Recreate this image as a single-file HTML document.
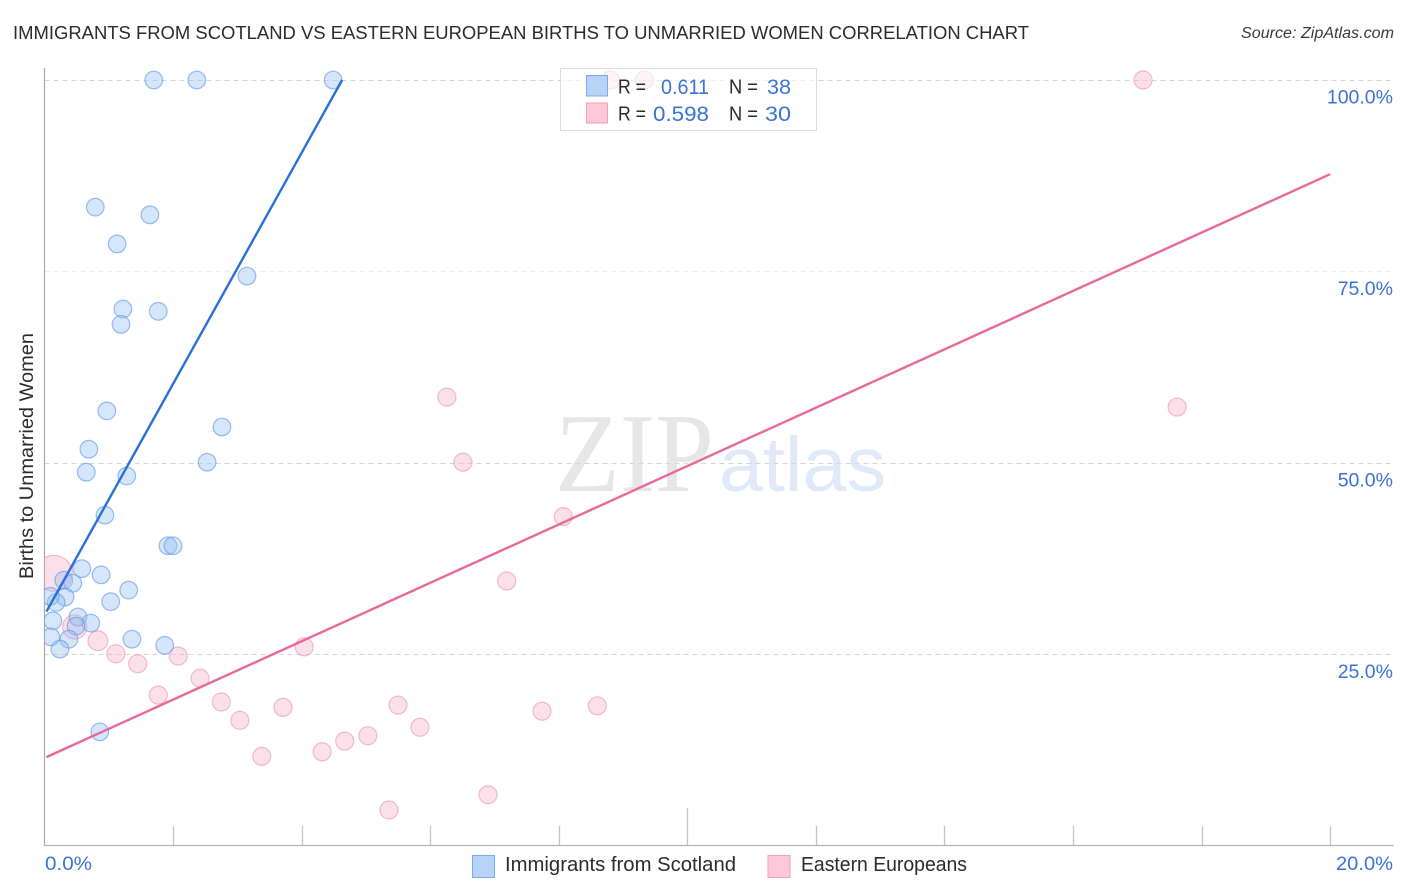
<!DOCTYPE html>
<html lang="en">
<head>
<meta charset="utf-8">
<title>Immigrants from Scotland vs Eastern European Births to Unmarried Women Correlation Chart</title>
<style>
html,body{margin:0;padding:0;background:#fff;}
body{width:1406px;height:892px;overflow:hidden;}
svg{display:block;font-family:"Liberation Sans",sans-serif;}
</style>
</head>
<body>
<svg id="chart" width="1406" height="892" viewBox="0 0 1406 892" xmlns="http://www.w3.org/2000/svg">
  <defs><clipPath id="plot-clip"><rect x="44.5" y="60" width="1350" height="786"/></clipPath></defs>
  <rect x="0" y="0" width="1406" height="892" fill="#fff"/>
  <text x="13" y="39" font-size="18.6" fill="#2b2b2b" textLength="1016" lengthAdjust="spacingAndGlyphs">IMMIGRANTS FROM SCOTLAND VS EASTERN EUROPEAN BIRTHS TO UNMARRIED WOMEN CORRELATION CHART</text>
  <text x="1394" y="38" font-size="15.5" font-style="italic" fill="#3a3a3a" text-anchor="end" textLength="153" lengthAdjust="spacingAndGlyphs">Source: ZipAtlas.com</text>
  <g>
    <text x="555" y="491" font-family="'Liberation Serif',serif" font-size="112" fill="#e6e6e6" textLength="159" lengthAdjust="spacingAndGlyphs">ZIP</text>
    <text x="719" y="491" font-size="77" fill="#dfe9f9" textLength="167" lengthAdjust="spacingAndGlyphs">atlas</text>
  </g>
  <g id="grid"></g>
  <g id="axes"></g>
  <g id="marks" clip-path="url(#plot-clip)"></g>
  <g id="lines"></g>
  <g id="labels"></g>
  <text transform="translate(33,456) rotate(-90)" font-size="19.5" fill="#2b2b2b" text-anchor="middle" textLength="246" lengthAdjust="spacingAndGlyphs">Births to Unmarried Women</text>

  <g>
    <rect x="560.5" y="68.5" width="256" height="62" fill="#fff" fill-opacity="0.62" stroke="#dcdcdc"/>
    <rect x="586.5" y="75.5" width="21" height="20.5" fill="#b7d3f8" stroke="#7fa9e6"/>
    <rect x="586.5" y="103" width="21" height="20" fill="#fcc8da" stroke="#f0a0bb"/>
    <g font-size="20" fill="#2b2b2b">
      <text x="618" y="93.5" textLength="28" lengthAdjust="spacingAndGlyphs">R =</text>
      <text x="618" y="120.5" textLength="28" lengthAdjust="spacingAndGlyphs">R =</text>
      <text x="729" y="93.5" textLength="29" lengthAdjust="spacingAndGlyphs">N =</text>
      <text x="729" y="120.5" textLength="29" lengthAdjust="spacingAndGlyphs">N =</text>
    </g>
    <g font-size="21" fill="#3b73d1">
      <text x="661" y="94" textLength="48" lengthAdjust="spacingAndGlyphs">0.611</text>
      <text x="653" y="121" textLength="56" lengthAdjust="spacingAndGlyphs">0.598</text>
      <text x="767" y="94" textLength="24" lengthAdjust="spacingAndGlyphs">38</text>
      <text x="765" y="121" textLength="26" lengthAdjust="spacingAndGlyphs">30</text>
    </g>
  </g>

  <g>
    <rect x="472.5" y="855.5" width="22" height="22" fill="#b7d3f8" stroke="#7fa9e6"/>
    <text x="505" y="871" font-size="20" fill="#2b2b2b" textLength="231" lengthAdjust="spacingAndGlyphs">Immigrants from Scotland</text>
    <rect x="768" y="855.5" width="22" height="22" fill="#fcc8da" stroke="#f0a0bb"/>
    <text x="801" y="871" font-size="20" fill="#2b2b2b" textLength="166" lengthAdjust="spacingAndGlyphs">Eastern Europeans</text>
  </g>
</svg>
<script>
const scotlandX = [1.70,2.37,4.49,0.79,1.64,1.13,3.15,1.22,1.77,1.19,0.97,2.76,0.69,2.53,0.65,1.28,0.94,1.92,2.00,0.58,0.88,0.30,0.44,1.31,0.32,1.03,0.18,0.09,0.13,0.52,0.72,0.49,0.10,0.38,1.36,1.87,0.24,0.86];
const scotlandY = [100,100,100,83.4,82.4,78.6,74.4,70.1,69.8,68.1,56.8,54.7,51.8,50.1,48.8,48.3,43.2,39.2,39.2,36.2,35.4,34.7,34.3,33.4,32.5,31.9,31.8,32.6,29.4,29.9,29.1,28.7,27.3,27.0,27.0,26.2,25.7,14.9];
const easternX = [0.15,0.47,0.83,1.11,1.45,2.08,2.42,1.77,2.75,3.04,3.71,4.04,3.38,4.32,4.67,5.03,5.50,5.84,5.36,6.90,7.74,8.60,7.19,8.07,6.51,6.26,17.62,17.09,9.33,8.81];
const easternY = [35.6,28.6,26.8,25.1,23.8,24.8,21.9,19.7,18.8,16.4,18.1,26.0,11.7,12.3,13.7,14.4,18.4,15.5,4.7,6.7,17.6,18.3,34.6,43.0,50.1,58.6,57.3,100,100,100];
const easternWeight = [4,1.8,1.2,1,1,1,1,1,1,1,1,1,1,1,1,1,1,1,1,1,1,1,1,1,1,1,1,1,1,1];
const scotlandTrendX = [0.03,4.63];
const scotlandTrendY = [30.6,100];
const easternTrendX = [0.03,20];
const easternTrendY = [11.6,87.7];
const yTicks = [25,50,75,100];
const yTickLabels = ["25.0%","50.0%","75.0%","100.0%"];
const xTicks = [2,4,6,8,10,12,14,16,18,20];
const xEndLabels = ["0.0%","20.0%"];

const NS = "http://www.w3.org/2000/svg";
const xScale = v => 44.5 + v * 64.28;
const yScale = v => 846 - v * 7.66;
function make(tag, parent, attrs) {
  const el = document.createElementNS(NS, tag);
  for (const k in attrs) el.setAttribute(k, attrs[k]);
  parent.appendChild(el);
  return el;
}
const grid = document.getElementById("grid");
const axes = document.getElementById("axes");
const marks = document.getElementById("marks");
const lines = document.getElementById("lines");
const labels = document.getElementById("labels");

yTicks.forEach((t, i) => {
  const y = Math.floor(yScale(t)) + 0.5;
  const g = make("line", grid, {x1: 44.5, x2: 1393, y1: y, y2: y, stroke: t === 75 ? "#ececec" : "#d6d6d6", "stroke-width": 1, "stroke-dasharray": "5 4"});
  
  
  const l = make("text", labels, {x: 1393, y: yScale(t) + 23.5, "font-size": 19.5, fill: "#3b73d1", "text-anchor": "end"});
  l.textContent = yTickLabels[i];
  
  
});

const yAxis = make("line", axes, {x1: 44.5, x2: 44.5, y1: 68, y2: 846, stroke: "#a8a8a8", "stroke-width": 1.2});


const xAxis = make("line", axes, {x1: 44, x2: 1394, y1: 845.5, y2: 845.5, stroke: "#b4b4b4", "stroke-width": 1.2});


xTicks.forEach(t => {
  const x = Math.round(xScale(t)) + 0.5;
  const tick = make("line", axes, {x1: x, x2: x, y1: t === 10 ? 808 : 826, y2: 845, stroke: "#c4c4c4", "stroke-width": 1.3});
  
  
});
const xStart = make("text", labels, {x: 45, y: 870, "font-size": 19.5, fill: "#3b73d1", textLength: 47, lengthAdjust: "spacingAndGlyphs"});
xStart.textContent = xEndLabels[0];


const xEnd = make("text", labels, {x: 1336, y: 870, "font-size": 19.5, fill: "#3b73d1", textLength: 57, lengthAdjust: "spacingAndGlyphs"});
xEnd.textContent = xEndLabels[1];



easternX.forEach((v, i) => {
  const c = make("circle", marks, {cx: xScale(v), cy: yScale(easternY[i]), r: 9 * Math.sqrt(easternWeight[i]), fill: "#f9b4cb", "fill-opacity": 0.42, stroke: "#ee8fae", "stroke-opacity": 0.6, "stroke-width": 1.2});
  
  
});
scotlandX.forEach((v, i) => {
  const c = make("circle", marks, {cx: xScale(v), cy: yScale(scotlandY[i]), r: 8.8, fill: "#9cc2f4", "fill-opacity": 0.42, stroke: "#5c98e6", "stroke-opacity": 0.62, "stroke-width": 1.2});
  
  
});

const blueLine = make("line", lines, {x1: xScale(scotlandTrendX[0]), y1: yScale(scotlandTrendY[0]), x2: xScale(scotlandTrendX[1]), y2: yScale(scotlandTrendY[1]), stroke: "#2a70d6", "stroke-width": 2.4});


const pinkLine = make("line", lines, {x1: xScale(easternTrendX[0]), y1: yScale(easternTrendY[0]), x2: xScale(easternTrendX[1]), y2: yScale(easternTrendY[1]), stroke: "#e9689a", "stroke-width": 2.4});


</script>
</body>
</html>
